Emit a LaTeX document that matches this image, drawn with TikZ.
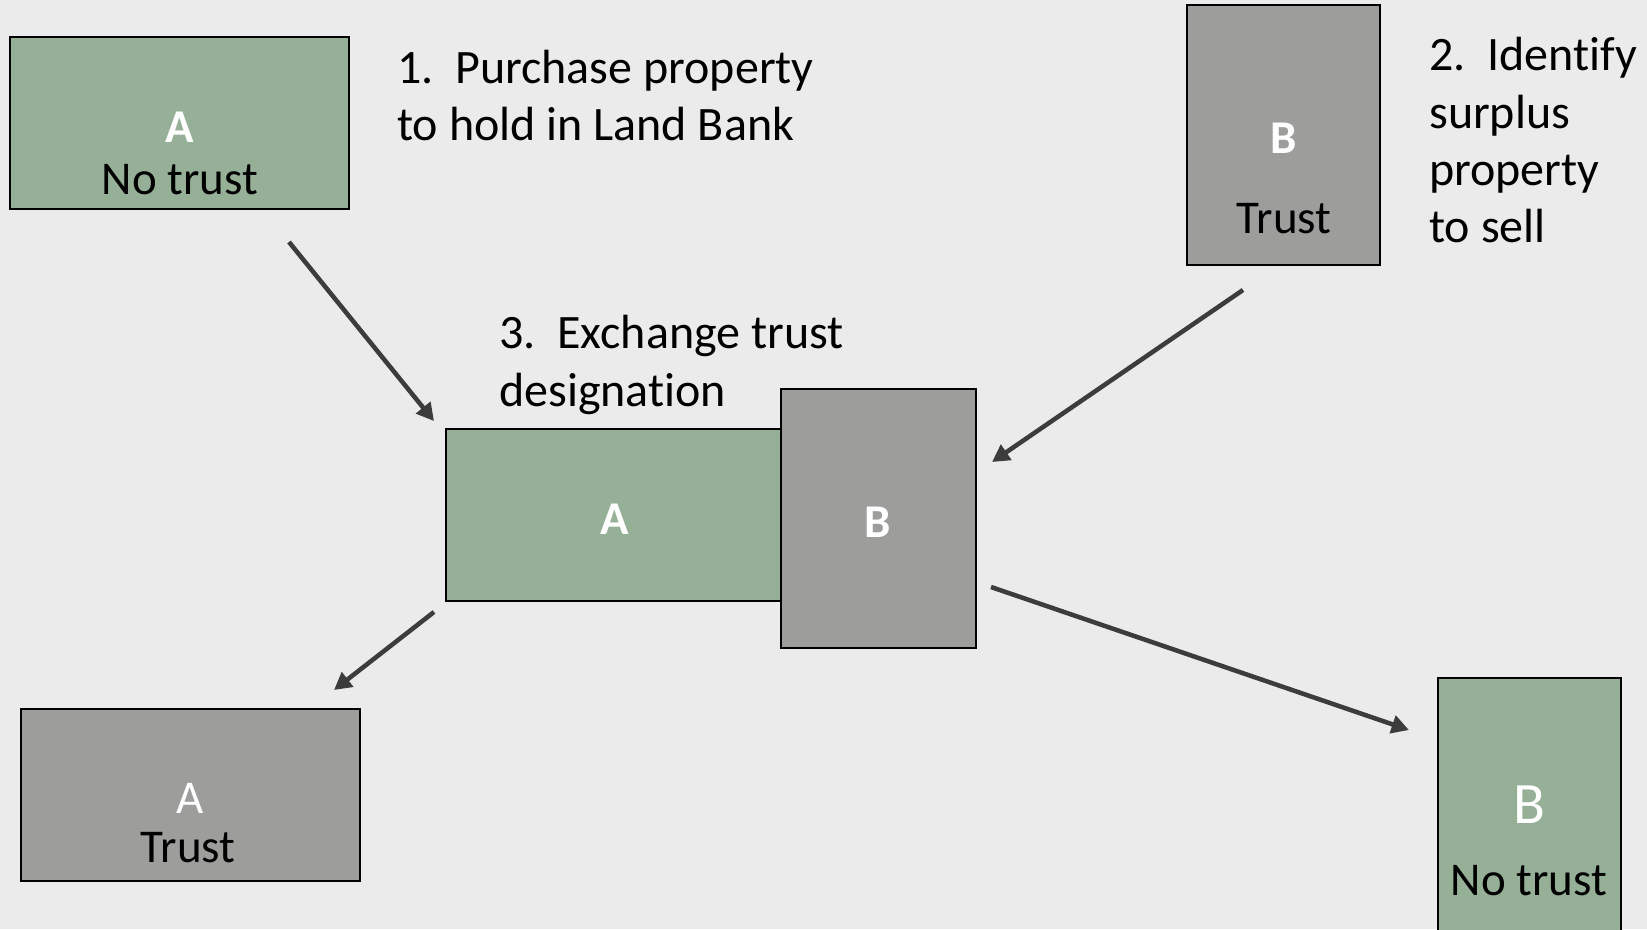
\documentclass[tikz,border=0pt]{standalone}
\usepackage{fontspec}
\setmainfont{Carlito}[Ligatures=NoCommon]
\usetikzlibrary{arrows.meta}
\definecolor{pagebg}{HTML}{EBEBEB}
\definecolor{notrust}{HTML}{95B097}
\definecolor{trustgrey}{HTML}{9D9D9C}
\definecolor{arrowgrey}{HTML}{3C3C3C}
\begin{document}
\begin{tikzpicture}[x=0.75pt,y=-0.75pt,
  boxsize/.style 2 args={minimum width=#1*0.75pt, minimum height=#2*0.75pt},
  parcel/.style={draw=black, line width=1.5pt, inner sep=0pt, outer sep=0pt},
  landbank/.style={parcel, fill=notrust},
  trustland/.style={parcel, fill=trustgrey},
  txt/.style={font=\fontsize{36pt}{43pt}\selectfont, inner sep=0pt, anchor=base west},
  tag/.style={font=\fontsize{35.25pt}{42pt}\selectfont, inner sep=0pt, anchor=base, text=white},
  bigtag/.style={tag, font=\fontsize{44pt}{52pt}\selectfont},
  boldtag/.style={tag, font=\fontsize{35.25pt}{42pt}\selectfont\bfseries},
  caption/.style={font=\fontsize{35.25pt}{42pt}\selectfont, inner sep=0pt, anchor=base, text=black},
  flow/.style={draw=arrowgrey, line width=3.4pt, -{Triangle[length=13pt,width=13.5pt]}}]

% page
\clip (0,0) rectangle (1647,929);
\fill[pagebg] (0,0) rectangle (1647,929);

% parcels
\node[landbank, boxsize={339}{172}] (aNo) at (179.5,123) {};
\node[trustland, boxsize={193}{260}] (bTrust) at (1283.5,135) {};
\node[landbank, boxsize={335}{172}] (aSwap) at (613.5,515) {};
\node[trustland, boxsize={195}{259}] (bSwap) at (878.5,518.5) {};
\node[trustland, boxsize={339}{172}] (aTrust) at (190.5,795) {};
\node[landbank, boxsize={183}{257}] (bNo) at (1529.5,806.5) {};

% parcel labels
\node[boldtag] (aNoTag) at (180,142) {A};
\node[caption] (aNoCap) at (180,194) {No trust};
\node[boldtag] (bTrustTag) at (1284,153) {B};
\node[caption] (bTrustCap) at (1284,233) {Trust};
\node[boldtag] (aSwapTag) at (615,534) {A};
\node[boldtag] (bSwapTag) at (878,537) {B};
\node[tag] (aTrustTag) at (190,813) {A};
\node[caption] (aTrustCap) at (188,862) {Trust};
\node[bigtag] (bNoTag) at (1529,823) {B};
\node[caption] (bNoCap) at (1529,895) {No trust};

% steps
\node[txt] (s1a) at (397,83) {1.\ \ Purchase property};
\node[txt] (s1b) at (397,140) {to hold in Land Bank};
\node[txt] (s2a) at (1429,70) {2.\ \ Identify};
\node[txt] (s2b) at (1429,128) {surplus};
\node[txt] (s2c) at (1429,185) {property};
\node[txt] (s2d) at (1429,242) {to sell};
\node[txt] (s3a) at (499,348) {3.\ \ Exchange trust};
\node[txt] (s3b) at (499,406) {designation};

% arrow ends
\coordinate (buyFrom) at (289,242);
\coordinate (buyTo) at (434,421);
\coordinate (surFrom) at (1243,290);
\coordinate (surTo) at (992,462);
\coordinate (aOutFrom) at (434,612);
\coordinate (aOutTo) at (334,690);
\coordinate (bOutFrom) at (991,587);
\coordinate (bOutTo) at (1409,730);

\draw[flow] (buyFrom) -- (buyTo);
\draw[flow] (surFrom) -- (surTo);
\draw[flow] (aOutFrom) -- (aOutTo);
\draw[flow] (bOutFrom) -- (bOutTo);
\end{tikzpicture}
\end{document}
